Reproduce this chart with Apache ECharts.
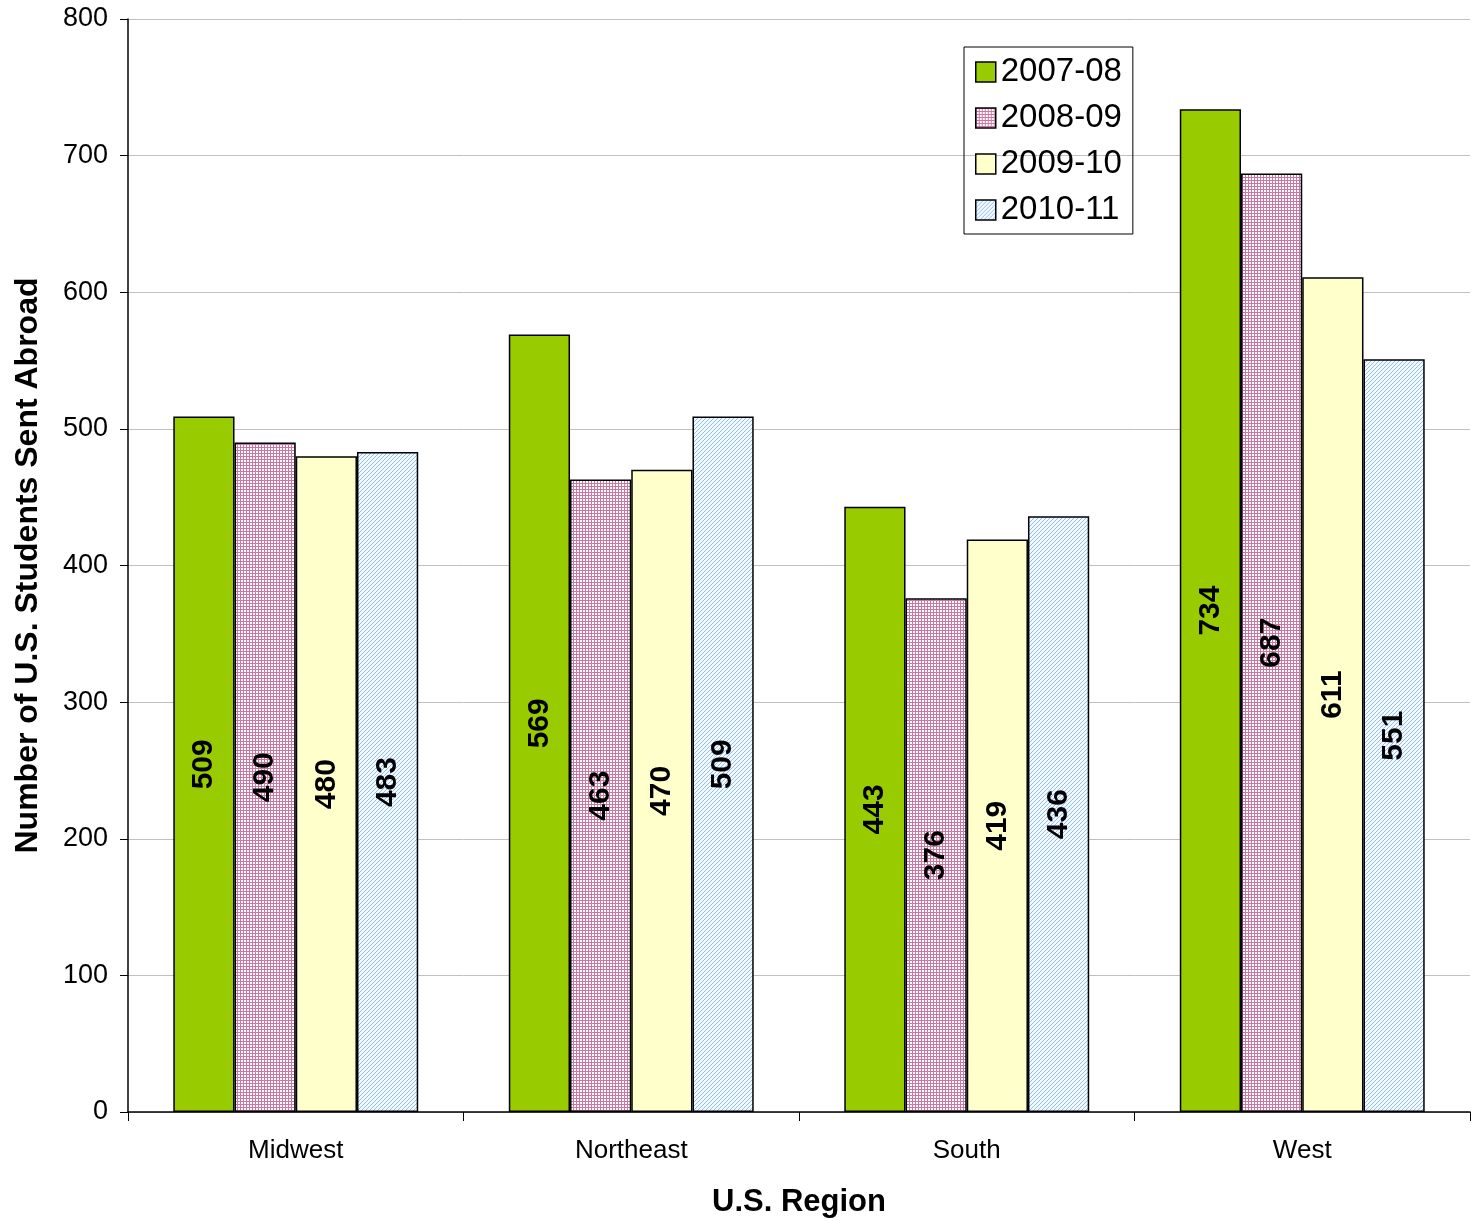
<!DOCTYPE html>
<html><head><meta charset="utf-8">
<script src="https://cdn.jsdelivr.net/npm/echarts@6/dist/echarts.min.js"></script>
<style>html,body{margin:0;padding:0;background:#fff;overflow:hidden}#c{width:1471px;height:1221px}</style>
</head><body><div id="c"></div>
<script>
const categories = ['Midwest', 'Northeast', 'South', 'West'];
const seriesNames = ['2007-08', '2008-09', '2009-10', '2010-11'];
const s0708 = [509, 569, 443, 734];
const s0809 = [490, 463, 376, 687];
const s0910 = [480, 470, 419, 611];
const s1011 = [483, 509, 436, 551];

function gridPattern() {
  const c = document.createElement('canvas'); c.width = 6; c.height = 6;
  const g = c.getContext('2d');
  g.fillStyle = '#ffffff'; g.fillRect(0, 0, 6, 6);
  g.fillStyle = '#cc77a3';
  g.fillRect(0, 0, 6, 1); g.fillRect(0, 3, 6, 1);
  g.fillRect(0, 0, 1, 6); g.fillRect(3, 0, 1, 6);
  return c;
}
function diagPattern() {
  const c = document.createElement('canvas'); c.width = 8; c.height = 8;
  const g = c.getContext('2d');
  g.fillStyle = '#f4f9ff'; g.fillRect(0, 0, 8, 8);
  g.fillStyle = '#8fc0f5';
  for (let i = 0; i < 8; i++) { g.fillRect(i, (7 - i) % 4, 1, 1); g.fillRect(i, ((7 - i) % 4) + 4, 1, 1); }
  return c;
}
const fills = [
  '#99cc00',
  { image: gridPattern(), repeat: 'repeat' },
  '#ffffcc',
  { image: diagPattern(), repeat: 'repeat' }
];
const data = [s0708, s0809, s0910, s1011];

const chart = echarts.init(document.getElementById('c'));
chart.setOption({
  animation: false,
  backgroundColor: '#fff',
  textStyle: { fontFamily: 'Liberation Sans, Arial, sans-serif' },
  grid: { left: 128, right: 1, top: 19, bottom: 109, containLabel: false, outerBoundsMode: 'none' },
  legend: {
    orient: 'vertical', left: 964, top: 47,
    icon: 'rect',
    itemWidth: 20, itemHeight: 20, itemGap: 12,
    padding: [8, 11, 7, 11],
    borderColor: '#000', borderWidth: 1,
    textStyle: { fontSize: 33, lineHeight: 34, color: '#000', fontFamily: 'Liberation Sans, Arial, sans-serif' },
    data: seriesNames.map(n => ({ name: n, itemStyle: { borderColor: '#000', borderWidth: 1.5 } }))
  },
  xAxis: {
    type: 'category', data: categories,
    name: 'U.S. Region', nameLocation: 'middle', nameGap: 75,
    nameTextStyle: { fontSize: 31, fontWeight: 'bold', color: '#000' },
    axisLine: { lineStyle: { color: '#000', width: 1.5 } },
    axisTick: { show: true, length: 9, lineStyle: { color: '#000' } },
    axisLabel: { fontSize: 26, color: '#000', margin: 26 }
  },
  yAxis: {
    type: 'value', min: 0, max: 800, interval: 100,
    name: 'Number of U.S. Students Sent Abroad', nameLocation: 'middle', nameGap: 84,
    nameTextStyle: { fontSize: 32, fontWeight: 'bold', color: '#000' },
    axisLine: { show: true, lineStyle: { color: '#000', width: 1.5 } },
    axisTick: { show: true, length: 8, lineStyle: { color: '#000' } },
    axisLabel: { fontSize: 27, color: '#000', margin: 20 },
    splitLine: { lineStyle: { color: '#c0c0c0', width: 1 } }
  },
  series: data.map((d, i) => ({
    name: seriesNames[i], type: 'bar', data: d,
    barGap: '0%', barCategoryGap: '27%',
    itemStyle: { color: fills[i], borderColor: '#000', borderWidth: 1.5 },
    label: {
      show: true, position: 'inside', rotate: 90,
      fontSize: 30, fontWeight: 'bold', color: '#000'
    }
  }))
});
</script></body></html>
